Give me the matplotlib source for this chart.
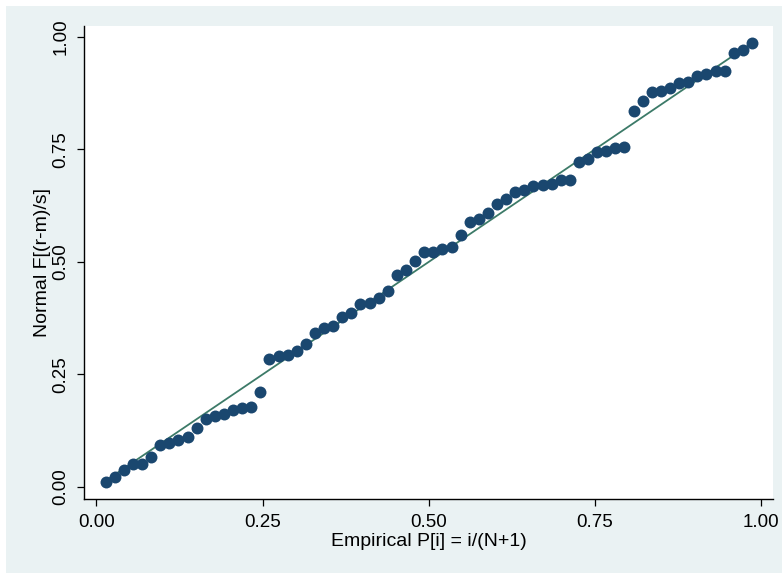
import numpy as np
import matplotlib
matplotlib.use("Agg")
import matplotlib.pyplot as plt
from matplotlib.patches import Rectangle

# normal F values, sorted (N = 72)
normal_f = [
    0.012, 0.023, 0.038, 0.052, 0.052, 0.067, 0.093, 0.098, 0.104, 0.110,
    0.132, 0.152, 0.158, 0.162, 0.172, 0.175, 0.178, 0.211,
    0.284, 0.290, 0.293, 0.302, 0.318, 0.343, 0.354, 0.358, 0.377, 0.387,
    0.406, 0.408, 0.419, 0.436, 0.471, 0.482,
    0.503, 0.522, 0.523, 0.528, 0.533, 0.560, 0.588, 0.595, 0.608, 0.628,
    0.640, 0.656, 0.660, 0.669, 0.671, 0.673, 0.681, 0.682,
    0.723, 0.729, 0.745, 0.747, 0.752, 0.756, 0.836, 0.857, 0.877, 0.880,
    0.886, 0.897, 0.899, 0.914, 0.917, 0.923, 0.924, 0.964, 0.971, 0.986,
]
n = len(normal_f)
empirical_p = [(i + 1) / (n + 1) for i in range(n)]

tick_vals = [0.0, 0.25, 0.5, 0.75, 1.0]
tick_labels = ["0.00", "0.25", "0.50", "0.75", "1.00"]

plt.rcParams['font.family'] = ['Liberation Sans', 'DejaVu Sans']

fig = plt.figure(figsize=(7.82, 5.74), dpi=100, facecolor="white")
# light outer background like the stata scheme
bg = Rectangle((6 / 782, 1 / 574), 1, 1 - 7 / 574, transform=fig.transFigure,
               facecolor="#EAF2F3", edgecolor="none", zorder=-1)
fig.add_artist(bg)

ax = fig.add_axes([84 / 782, 1 - 499 / 574, (773 - 84) / 782, (499 - 26) / 574])
ax.set_zorder(1)
ax.set_facecolor("white")

ax.plot([empirical_p[0], empirical_p[-1]], [empirical_p[0], empirical_p[-1]],
        color="#3C7A68", lw=1.3, zorder=2)
ax.plot(empirical_p, normal_f, "o", color="#1A476F", markersize=8.6,
        markeredgewidth=0, zorder=3)

ax.set_xlim(-0.0188, 1.018)
ax.set_ylim(-0.0267, 1.024)
ax.set_xticks(tick_vals)
ax.set_xticklabels(tick_labels)
ax.set_yticks(tick_vals)
ax.set_yticklabels(tick_labels, rotation=90, va="center")

for s in ["top", "right"]:
    ax.spines[s].set_visible(False)
for s in ["left", "bottom"]:
    ax.spines[s].set_linewidth(1.0)
    ax.spines[s].set_color("black")
ax.tick_params(direction="out", length=5, width=0.9, labelsize=13.5, pad=5.5)

ax.set_xlabel("Empirical P[i] = i/(N+1)", fontsize=14, labelpad=2)
ax.set_ylabel("Normal F[(r-m)/s]", fontsize=14, labelpad=1)

fig.savefig("out.png", dpi=100, facecolor=fig.get_facecolor())
